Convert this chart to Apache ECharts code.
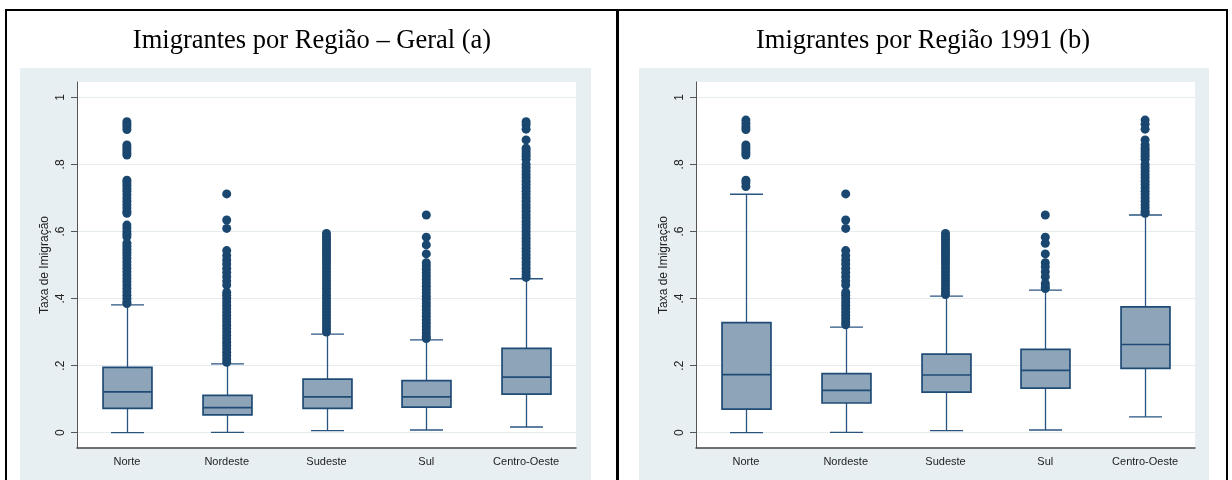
<!DOCTYPE html>
<html><head><meta charset="utf-8">
<script src="https://cdn.jsdelivr.net/npm/echarts@6/dist/echarts.min.js"></script>
<style>html,body{margin:0;padding:0;background:#fff}#c{width:1232px;height:480px}</style>
</head><body><div id="c"></div>
<script>
const categories = ['Norte', 'Nordeste', 'Sudeste', 'Sul', 'Centro-Oeste'];
const titleA = 'Imigrantes por Região – Geral (a)';
const titleB = 'Imigrantes por Região 1991 (b)';
const yAxisName = 'Taxa de Imigração';
const yTicks = [0, 0.2, 0.4, 0.6, 0.8, 1];
const yTickLabels = ['0', '.2', '.4', '.6', '.8', '1'];

// box statistics per category: [lower whisker, Q1, median, Q3, upper whisker]
const boxA = [
  [0.000, 0.0726, 0.122, 0.195, 0.381],
  [0.001, 0.053, 0.0746, 0.111, 0.205],
  [0.006, 0.0726, 0.107, 0.160, 0.294],
  [0.008, 0.0765, 0.107, 0.155, 0.277],
  [0.017, 0.115, 0.166, 0.2515, 0.459]
];
const boxB = [
  [0.000, 0.0706, 0.173, 0.328, 0.711],
  [0.001, 0.0885, 0.126, 0.176, 0.315],
  [0.006, 0.121, 0.172, 0.234, 0.407],
  [0.008, 0.133, 0.186, 0.2485, 0.425],
  [0.047, 0.192, 0.263, 0.375, 0.649]
];

// outside values, panel (a)
const outA_Norte = [0.927,0.92,0.912,0.904,0.858,0.85,0.843,0.835,0.828,0.753,0.745,0.737,0.728,0.72,0.71,0.7,0.69,0.68,0.67,0.66,0.654,0.619,0.61,0.6,0.592,0.584,0.565,0.556,0.547,0.538,0.53,0.52,0.51,0.5,0.49,0.48,0.47,0.46,0.45,0.44,0.43,0.42,0.41,0.4,0.39,0.385];
const outA_Nordeste = [0.712,0.634,0.609,0.543,0.528,0.515,0.503,0.49,0.478,0.465,0.452,0.44,0.418,0.41,0.4,0.39,0.38,0.37,0.36,0.35,0.34,0.33,0.32,0.31,0.3,0.29,0.28,0.27,0.26,0.25,0.24,0.23,0.22,0.21];
const outA_Sudeste = [0.594,0.585,0.577,0.569,0.56,0.552,0.544,0.535,0.527,0.518,0.51,0.5,0.49,0.48,0.47,0.46,0.45,0.44,0.43,0.42,0.41,0.4,0.39,0.38,0.37,0.36,0.35,0.34,0.33,0.32,0.31,0.3];
const outA_Sul = [0.649,0.583,0.56,0.533,0.507,0.497,0.487,0.477,0.467,0.457,0.447,0.437,0.427,0.417,0.407,0.397,0.387,0.377,0.367,0.357,0.347,0.337,0.327,0.317,0.307,0.297,0.287,0.281];
const outA_CO = [0.927,0.918,0.905,0.873,0.848,0.84,0.832,0.824,0.815,0.8,0.79,0.78,0.77,0.76,0.75,0.74,0.73,0.72,0.71,0.7,0.69,0.68,0.67,0.66,0.65,0.64,0.63,0.62,0.61,0.6,0.59,0.58,0.57,0.56,0.55,0.54,0.53,0.52,0.51,0.5,0.49,0.48,0.47,0.463];

// outside values, panel (b)
const outB_Norte = [0.932,0.922,0.912,0.904,0.858,0.85,0.843,0.835,0.828,0.753,0.745,0.734];
const outB_Nordeste = [0.712,0.634,0.609,0.543,0.528,0.515,0.503,0.49,0.478,0.465,0.452,0.44,0.418,0.41,0.4,0.39,0.38,0.37,0.36,0.35,0.34,0.33,0.322];
const outB_Sudeste = [0.594,0.585,0.577,0.569,0.56,0.552,0.544,0.535,0.527,0.518,0.51,0.5,0.49,0.48,0.47,0.46,0.45,0.44,0.43,0.42,0.412];
const outB_Sul = [0.649,0.583,0.565,0.533,0.507,0.495,0.48,0.465,0.445,0.435,0.43];
const outB_CO = [0.932,0.92,0.905,0.873,0.858,0.848,0.84,0.832,0.824,0.815,0.8,0.79,0.78,0.77,0.76,0.75,0.74,0.73,0.72,0.71,0.7,0.69,0.68,0.67,0.66,0.654];

const outA = [outA_Norte, outA_Nordeste, outA_Sudeste, outA_Sul, outA_CO];
const outB = [outB_Norte, outB_Nordeste, outB_Sudeste, outB_Sul, outB_CO];

const navy = '#1a476f';
const boxFill = '#8ea4b9';
const boxStroke = '#1f4b76';
const whiskerColor = '#2a5480';
const bg = '#e8eff2';
const sans = '"Liberation Sans", Arial, sans-serif';
const serif = '"Liberation Serif", "Times New Roman", serif';

function renderBox(params, api) {
  const i = api.value(0);
  const pLo = api.coord([i, api.value(1)]);
  const pQ1 = api.coord([i, api.value(2)]);
  const pMed = api.coord([i, api.value(3)]);
  const pQ3 = api.coord([i, api.value(4)]);
  const pHi = api.coord([i, api.value(5)]);
  const band = api.size([1, 0])[0];
  const bw = band * 0.49, cw = band * 0.33;
  const x = Math.round(pMed[0]) + 0.5;
  const ws = { stroke: whiskerColor, lineWidth: 1.3 };
  return { type: 'group', children: [
    { type: 'line', shape: { x1: x, y1: pLo[1], x2: x, y2: pQ1[1] }, style: ws },
    { type: 'line', shape: { x1: x, y1: pQ3[1], x2: x, y2: pHi[1] }, style: ws },
    { type: 'line', shape: { x1: x - cw / 2, y1: pLo[1], x2: x + cw / 2, y2: pLo[1] }, style: ws },
    { type: 'line', shape: { x1: x - cw / 2, y1: pHi[1], x2: x + cw / 2, y2: pHi[1] }, style: ws },
    { type: 'rect', shape: { x: x - bw / 2, y: pQ3[1], width: bw, height: pQ1[1] - pQ3[1] },
      style: { fill: boxFill, stroke: boxStroke, lineWidth: 1.7 } },
    { type: 'line', shape: { x1: x - bw / 2, y1: pMed[1], x2: x + bw / 2, y2: pMed[1] },
      style: { stroke: boxStroke, lineWidth: 1.7 } }
  ] };
}

function yAxisOpt(gi) {
  return {
    type: 'value', gridIndex: gi, min: -0.0456, max: 1.0456,
    name: yAxisName, nameLocation: 'middle', nameGap: 26,
    nameTextStyle: { fontFamily: sans, fontSize: 12, color: '#222' },
    axisLine: { show: true, onZero: false, lineStyle: { color: '#555', width: 1 } },
    axisTick: { show: true, length: 6, customValues: yTicks, lineStyle: { color: '#555' } },
    axisLabel: { customValues: yTicks, rotate: 90, margin: 10, fontFamily: sans, fontSize: 12, color: '#222',
      formatter: v => { const k = yTicks.findIndex(t => Math.abs(t - v) < 1e-9); return k >= 0 ? yTickLabels[k] : ''; } },
    splitLine: { show: true, lineStyle: { color: '#e4ecef', width: 1 } }
  };
}
function xAxisOpt(gi) {
  return {
    type: 'category', gridIndex: gi, data: categories, boundaryGap: true,
    axisLine: { show: true, onZero: false, lineStyle: { color: '#444', width: 1.5 } },
    axisTick: { show: false },
    axisLabel: { fontFamily: sans, fontSize: 11, color: '#222', margin: 8, interval: 0 },
    splitLine: { show: false }
  };
}
function outlierData(out) {
  const d = [];
  out.forEach((arr, i) => arr.forEach(v => d.push([i, v])));
  return d;
}

const chart = echarts.init(document.getElementById('c'), null, { renderer: 'canvas' });
chart.setOption({
  animation: false,
  backgroundColor: '#fff',
  title: [
    { text: titleA, left: 307, top: 23, textAlign: 'center', textStyle: { fontFamily: serif, fontSize: 26.5, fontWeight: 'normal', color: '#000' } },
    { text: titleB, left: 918, top: 23, textAlign: 'center', textStyle: { fontFamily: serif, fontSize: 26.5, fontWeight: 'normal', color: '#000' } }
  ],
  graphic: [
    { type: 'rect', z: -10, shape: { x: 20, y: 68, width: 571, height: 420 }, style: { fill: bg } },
    { type: 'rect', z: -10, shape: { x: 639, y: 68, width: 570, height: 420 }, style: { fill: bg } },
    { type: 'rect', z: 100, shape: { x: 6, y: 10, width: 611, height: 490 }, style: { fill: null, stroke: '#000', lineWidth: 2 } },
    { type: 'rect', z: 100, shape: { x: 618, y: 10, width: 609, height: 490 }, style: { fill: null, stroke: '#000', lineWidth: 2 } }
  ],
  grid: [
    { left: 77, right: 656, top: 82, bottom: 32, show: true, backgroundColor: '#fff', borderWidth: 0 },
    { left: 696, right: 37, top: 82, bottom: 32, show: true, backgroundColor: '#fff', borderWidth: 0 }
  ],
  xAxis: [xAxisOpt(0), xAxisOpt(1)],
  yAxis: [yAxisOpt(0), yAxisOpt(1)],
  series: [
    { type: 'custom', xAxisIndex: 0, yAxisIndex: 0, renderItem: renderBox, encode: { x: 0, y: [1, 2, 3, 4, 5] },
      data: boxA.map((b, i) => [i].concat(b)), z: 2 },
    { type: 'custom', xAxisIndex: 1, yAxisIndex: 1, renderItem: renderBox, encode: { x: 0, y: [1, 2, 3, 4, 5] },
      data: boxB.map((b, i) => [i].concat(b)), z: 2 },
    { type: 'scatter', xAxisIndex: 0, yAxisIndex: 0, data: outlierData(outA), symbolSize: 9,
      itemStyle: { color: navy, opacity: 1 }, z: 3 },
    { type: 'scatter', xAxisIndex: 1, yAxisIndex: 1, data: outlierData(outB), symbolSize: 9,
      itemStyle: { color: navy, opacity: 1 }, z: 3 }
  ]
});
</script>
</body></html>
